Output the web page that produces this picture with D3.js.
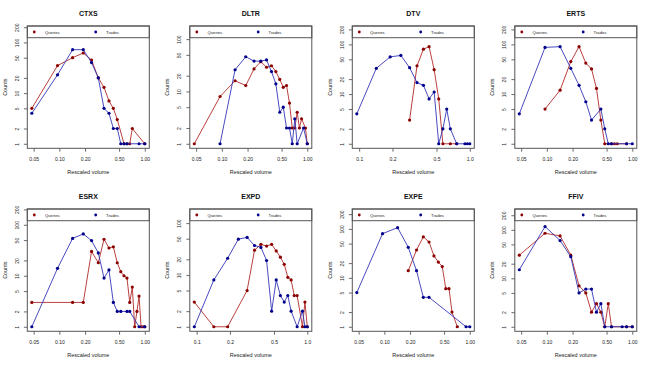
<!DOCTYPE html>
<html>
<head>
<meta charset="utf-8">
<script src="https://cdn.jsdelivr.net/npm/d3@7"></script>
<style>
  html, body { margin: 0; padding: 0; background: #fff; }
  svg { display: block; font-family: "Liberation Sans", Arial, Helvetica, sans-serif; }
</style>
</head>
<body>
<svg id="chart" width="650" height="366"></svg>
<script>
// ---------- data ----------
const bins = [0.0476, 0.0952, 0.1429, 0.1905, 0.2381, 0.2857, 0.3333, 0.3810, 0.4286, 0.4762,
              0.5238, 0.5714, 0.6190, 0.6667, 0.7143, 0.7619, 0.8095, 0.8571, 0.9048, 0.9524, 1.0000];

const stocks = ["CTXS", "DLTR", "DTV", "ERTS", "ESRX", "EXPD", "EXPE", "FFIV"];
const seriesNames = ["Queries", "Trades"];
const N = null;

// counts per bin (null = no observation)
const queriesCTXS = [5, 35, 50, 62, 45, 20, 13, 7, 5, 3, N, 1, 1, 1, 2, N, N, N, N, N, 1];
const tradesCTXS  = [4, 23, 72, 72, 40, 20, 5, 4, 2, 2, 1, 1, 1, N, N, N, N, 1, N, N, 1];

const queriesDLTR = [1, 8, 16, 13, 27, 37, 29, 31, 24, 17, 12, 13, 6, 2, 2, 4, 2, 3, N, 2, 1];
const tradesDLTR  = [N, 1, 26, 46, 38, 38, 40, 24, 14, 4, 5, 2, 2, 1, 3, 1, N, N, 2, N, 1];

const queriesDTV  = [N, N, N, N, N, 3, 37, 80, 90, 31, 8, 1, N, 1, N, 1, N, N, N, N, N];
const tradesDTV   = [N, 4, 33, 56, 60, 34, 17, 15, 8, 11, 1, 2, 5, 2, N, 1, N, N, 1, 1, 1];

const queriesERTS = [N, 5, 12, 45, 90, 42, 32, 13, 3, 1, N, 1, 1, 1, N, N, N, 1, N, N, N];
const tradesERTS  = [4, 87, 90, 33, 15, 7, 3, N, 5, 2, 1, 1, N, N, N, N, N, 1, N, N, 1];

const queriesESRX = [3, N, 3, 3, 30, 18, 52, 35, 37, 18, 12, 10, 9, 3, 6, 1, 2, 4, 1, 1, 1];
const tradesESRX  = [1, 14, 54, 66, 49, 28, 9, 13, 3, 2, 2, N, 2, 2, N, N, N, 1, N, N, 1];

const queriesEXPD = [N, 3, 1, 1, N, 5, 30, 39, 36, 39, 29, 22, 16, 9, 8, 4, 4, N, 1, 3, 1];
const tradesEXPD  = [N, 1, 8, 21, 49, 53, 37, 34, 19, 2, 8, 4, 3, 4, 2, N, 1, N, 2, 1, 1];

const queriesEXPE = [N, N, N, 14, 37, 69, 54, 28, 21, 17, 6, 6, 2, N, 1, N, N, N, N, N, N];
const tradesEXPE  = [5, 80, 106, 42, 14, 4, 4, N, N, N, N, N, N, N, N, N, N, N, 1, N, 1];

const queriesFFIV = [30, 85, 75, 30, 7, 5, 2, 3, 2, 1, 3, 1, N, N, N, N, N, 1, N, N, 1];
const tradesFFIV  = [15, 117, 60, 28, 5, 6, 6, 2, 3, 1, N, 1, N, N, N, 1, N, 1, N, N, 1];

const queries = [queriesCTXS, queriesDLTR, queriesDTV, queriesERTS, queriesESRX, queriesEXPD, queriesEXPE, queriesFFIV];
const trades  = [tradesCTXS, tradesDLTR, tradesDTV, tradesERTS, tradesESRX, tradesEXPD, tradesEXPE, tradesFFIV];

const xTickValues = [0.05, 0.1, 0.2, 0.5, 1];
const yTickValues = [1, 2, 5, 10, 20, 50, 100, 200];
const xLabel = "Rescaled volume";
const yLabel = "Counts";

// ---------- layout ----------
const svg = d3.select("#chart");
const panelW = 650 / 4, panelH = 183;
const boxL = 27.3, boxT = 26, boxW = 122, boxH = 122.3;
const colQ = { pt: "#8b0000", line: "#b22a2a" };
const colT = { pt: "#00008b", line: "#3535b8" };
const axisCol = "#444";

function padLog(lo, hi) {
  const a = Math.log10(lo), b = Math.log10(hi), p = (b - a) * 0.04;
  return [Math.pow(10, a - p), Math.pow(10, b + p)];
}

stocks.forEach((name, i) => {
  const col = i % 4, row = Math.floor(i / 4);
  const x0 = col * panelW, y0 = row * panelH;
  const bl = x0 + boxL, bt = y0 + boxT;

  const qPts = bins.map((b, j) => ({ x: b, y: queries[i][j] })).filter(d => d.y != null);
  const tPts = bins.map((b, j) => ({ x: b, y: trades[i][j] })).filter(d => d.y != null);
  const all = qPts.concat(tPts);
  const xMin = d3.min(all, d => d.x), xMax = d3.max(all, d => d.x);
  const yMax = d3.max(all, d => d.y) + 100;

  const xDom = padLog(xMin, xMax);
  const yDom = padLog(1, yMax);
  const x = d3.scaleLog().domain(xDom).range([bl, bl + boxW]);
  const y = d3.scaleLog().domain(yDom).range([bt + boxH, bt]);

  const g = svg.append("g");

  // title
  g.append("text")
    .attr("x", bl + boxW / 2).attr("y", y0 + 15.8)
    .attr("text-anchor", "middle")
    .attr("font-size", 7).attr("font-weight", "bold").attr("fill", "#111")
    .text(name);

  // x axis
  const xt = xTickValues.filter(v => v >= xDom[0] && v <= xDom[1]);
  const dec = xt.some(v => Math.abs(v * 10 - Math.round(v * 10)) > 1e-9) ? 2 : 1;
  const xAxis = g.append("g")
    .attr("transform", `translate(0,${bt + boxH})`)
    .call(d3.axisBottom(x).tickValues(xt).tickSize(3.4).tickPadding(5.8).tickFormat(d3.format(`.${dec}f`)));
  xAxis.select(".domain").remove();
  xAxis.selectAll("line").attr("stroke", axisCol).attr("stroke-width", 0.8);
  xAxis.selectAll("text").attr("font-size", 5).attr("fill", "#222").attr("font-family", null);

  // y axis
  const yt = yTickValues.filter(v => v >= yDom[0] && v <= yDom[1]);
  const yAxis = g.append("g")
    .attr("transform", `translate(${bl},0)`)
    .call(d3.axisLeft(y).tickValues(yt).tickSize(3.4).tickFormat(d3.format("d")));
  yAxis.select(".domain").remove();
  yAxis.selectAll("line").attr("stroke", axisCol).attr("stroke-width", 0.8);
  yAxis.selectAll("text")
    .attr("x", 0).attr("y", -8.4).attr("dy", null)
    .attr("text-anchor", "middle")
    .attr("transform", "rotate(-90)")
    .attr("font-size", 5).attr("fill", "#222").attr("font-family", null);

  // axis labels
  g.append("text")
    .attr("x", bl + boxW / 2).attr("y", y0 + 174)
    .attr("text-anchor", "middle").attr("font-size", 5.5).attr("fill", "#222")
    .text(xLabel);
  g.append("text")
    .attr("transform", `translate(${x0 + 6.6},${bt + boxH / 2}) rotate(-90)`)
    .attr("text-anchor", "middle").attr("font-size", 5.5).attr("fill", "#222")
    .text(yLabel);

  // series
  const line = d3.line().x(d => x(d.x)).y(d => y(d.y));
  [[qPts, colQ], [tPts, colT]].forEach(([pts, c]) => {
    g.append("path").datum(pts)
      .attr("d", line).attr("fill", "none")
      .attr("stroke", c.line).attr("stroke-width", 0.9);
    g.selectAll(null).data(pts).enter().append("circle")
      .attr("cx", d => x(d.x)).attr("cy", d => y(d.y)).attr("r", 1.6)
      .attr("fill", c.pt);
  });

  // legend
  const lg = g.append("g");
  lg.append("rect")
    .attr("x", bl).attr("y", bt).attr("width", boxW).attr("height", 11.7)
    .attr("fill", "#fff").attr("stroke", "#555").attr("stroke-width", 1);
  const legItems = [
    { label: seriesNames[0], c: colQ, dx: 7, tx: 17.7 },
    { label: seriesNames[1], c: colT, dx: 68.4, tx: 78.7 }
  ];
  legItems.forEach(it => {
    lg.append("circle").attr("cx", bl + it.dx).attr("cy", bt + 6).attr("r", 1.4).attr("fill", it.c.pt);
    lg.append("text").attr("x", bl + it.tx).attr("y", bt + 7.5)
      .attr("font-size", 4.2).attr("fill", "#222").text(it.label);
  });

  // box
  g.append("rect")
    .attr("x", bl).attr("y", bt).attr("width", boxW).attr("height", boxH)
    .attr("fill", "none").attr("stroke", "#555").attr("stroke-width", 1);
});
</script>
</body>
</html>
